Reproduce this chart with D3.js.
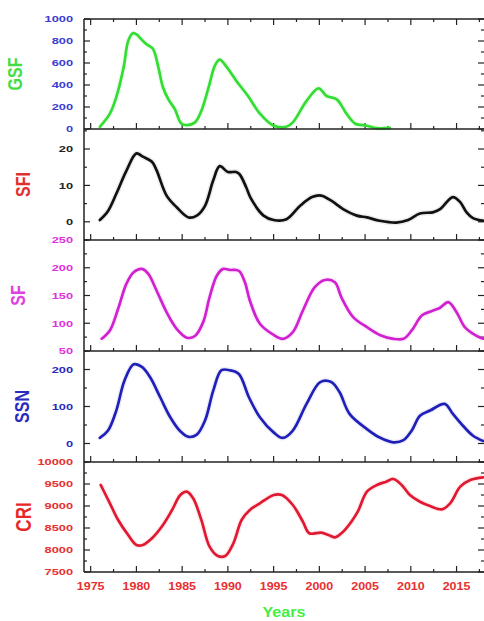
<!DOCTYPE html>
<html>
<head>
<meta charset="utf-8">
<script src="https://cdn.jsdelivr.net/npm/d3@7"></script>
<style>
  html, body { margin: 0; padding: 0; background: #fff; }
  svg { display: block; font-family: "Liberation Sans", Arial, sans-serif; }
</style>
</head>
<body>
<svg id="chart" width="484" height="621"></svg>
<script>
// ---- data ----
const gsfYears = [1976.0,1977.1,1977.8,1978.6,1979.1,1979.6,1980.0,1980.6,1981.1,1981.8,1982.4,1982.9,1983.5,1984.2,1984.9,1985.5,1986.4,1987.1,1987.9,1988.6,1989.1,1989.9,1990.9,1992.2,1993.5,1994.9,1996.4,1997.1,1998.6,1999.9,2000.8,2001.9,2003.0,2003.9,2005.2,2006.3,2007.7];
const gsfValues = [20,140,290,560,800,870,860,810,770,730,560,380,270,180,50,35,60,165,380,580,630,560,440,300,140,35,20,60,255,370,300,270,135,50,30,8,10];

const sfiYears = [1976.0,1976.9,1977.8,1978.9,1980.0,1980.7,1981.7,1982.2,1983.3,1984.4,1985.7,1986.6,1987.5,1988.4,1989.1,1990.0,1990.9,1991.3,1992.0,1992.5,1993.9,1995.0,1996.4,1997.9,1999.2,2000.2,2001.3,2002.6,2004.1,2005.2,2006.6,2008.4,2009.7,2011.0,2012.4,2013.2,2014.6,2015.4,2016.1,2016.8,2017.9];
const sfiValues = [0.5,3,7.7,14,18.8,17.9,16.5,14.2,7.2,4,1.2,1.7,4.4,11.4,15.3,13.7,13.7,13,9.5,6.5,1.7,0.5,0.7,4.4,6.8,7.2,5.8,3.5,1.7,1.2,0.3,-0.2,0.5,2.3,2.6,3.5,6.8,5.4,2.6,1.0,0.3];

const sfYears = [1976.2,1977.1,1978.0,1978.9,1979.7,1980.6,1981.3,1982.2,1983.3,1984.4,1985.5,1986.4,1987.3,1988.0,1988.8,1989.5,1990.2,1990.9,1991.3,1991.9,1992.4,1993.5,1995.0,1996.0,1997.1,1998.2,1999.5,2000.6,2001.7,2002.4,2003.7,2005.2,2006.6,2008.1,2009.2,2010.1,2011.2,2012.3,2013.2,2014.1,2015.0,2015.9,2017.0,2017.9];
const sfValues = [72,87,126,171,192,198,189,159,120,90,74,77,102,147,186,198,196,196,193,172,141,99,79,72,84,123,165,178,174,147,111,93,79,72,72,87,114,122,128,138,120,93,79,72];

const ssnYears = [1976.0,1976.9,1977.8,1978.7,1979.7,1980.6,1981.5,1982.6,1983.7,1984.8,1985.7,1986.6,1987.5,1988.4,1989.3,1990.2,1991.2,1992.3,1993.5,1995.0,1996.0,1997.1,1998.6,2000.1,2001.3,2002.2,2003.3,2005.2,2006.6,2008.1,2009.2,2010.1,2011.0,2012.1,2013.7,2014.6,2015.7,2016.8,2017.9];
const ssnValues = [15,35,89,170,214,207,179,125,71,33,18,24,62,143,198,198,188,125,71,30,15,35,107,166,166,139,80,39,16,3,9,35,75,89,107,80,48,21,7];

const criYears = [1976.1,1977.1,1978.0,1979.1,1980.0,1980.7,1981.7,1982.9,1983.9,1984.8,1985.5,1986.2,1987.1,1988.0,1988.9,1989.7,1990.6,1991.5,1992.4,1993.5,1995.0,1995.9,1997.1,1998.2,1998.9,2000.2,2001.0,2001.7,2002.6,2003.5,2004.2,2005.2,2006.3,2007.3,2008.1,2009.0,2009.9,2011.0,2012.1,2013.4,2014.3,2015.4,2016.5,2017.9];
const criValues = [9477,9061,8682,8341,8114,8114,8266,8568,8909,9250,9325,9175,8682,8075,7864,7864,8152,8682,8909,9061,9250,9250,9023,8643,8380,8395,8341,8288,8416,8643,8870,9325,9477,9553,9614,9477,9250,9098,9000,8925,9061,9439,9591,9652];

const xTickLabels = [1975,1980,1985,1990,1995,2000,2005,2010,2015];
const gsfTicks = [0,200,400,600,800,1000];
const sfiTicks = [0,10,20];
const sfTicks = [50,100,150,200,250];
const ssnTicks = [0,100,200];
const criTicks = [7500,8000,8500,9000,9500,10000];

// ---- layout ----
const svg = d3.select("#chart");
const left = 84, right = 484;
const bounds = [19, 129, 240, 351, 462, 572];
const x = d3.scaleLinear().domain([1974.27, 2018]).range([left, right]);

const panels = [
  {name: "GSF", years: gsfYears, values: gsfValues, domain: [0, 1000], ticks: gsfTicks, minor: 100,
   line: "#33dd33", label: "#44dd44", tickColor: "#3c3cd2", labelSize: 16, labelX: 22},
  {name: "SFI", years: sfiYears, values: sfiValues, domain: [-5, 25.5], ticks: sfiTicks, minor: 5,
   line: "#111111", label: "#e03030", tickColor: "#222222", labelSize: 16, labelX: 30},
  {name: "SF", years: sfYears, values: sfValues, domain: [50, 250], ticks: sfTicks, minor: 25,
   line: "#d020d0", label: "#e040e0", tickColor: "#e030e0", labelSize: 16, labelX: 25},
  {name: "SSN", years: ssnYears, values: ssnValues, domain: [-50, 250], ticks: ssnTicks, minor: 50,
   line: "#2020b8", label: "#2a2ac0", tickColor: "#2a2ac0", labelSize: 16, labelX: 29},
  {name: "CRI", years: criYears, values: criValues, domain: [7500, 10000], ticks: criTicks, minor: 250,
   line: "#e01830", label: "#e82828", tickColor: "#e83030", labelSize: 17, labelX: 31}
];

const stretch = 1.35;
const frame = "#222";

panels.forEach((p, i) => {
  const top = bounds[i], bottom = bounds[i + 1];
  const y = d3.scaleLinear().domain(p.domain).range([bottom, top]);
  const g = svg.append("g");

  // y ticks (left and right, inward)
  const minorVals = d3.range(Math.ceil(p.domain[0] / p.minor) * p.minor, p.domain[1] + 1e-9, p.minor);
  minorVals.forEach(v => {
    const major = p.ticks.includes(v);
    const len = major ? 6 : 3;
    const yy = y(v);
    g.append("line").attr("x1", left).attr("x2", left + len).attr("y1", yy).attr("y2", yy)
      .attr("stroke", frame).attr("stroke-width", 1.2);
    g.append("line").attr("x1", right - len).attr("x2", right).attr("y1", yy).attr("y2", yy)
      .attr("stroke", frame).attr("stroke-width", 1.2);
  });

  // y tick labels
  p.ticks.forEach(v => {
    g.append("text")
      .attr("transform", `translate(73,${y(v) + 3.4}) scale(${stretch},1)`)
      .attr("text-anchor", "end")
      .attr("font-size", 9.5).attr("font-weight", "bold")
      .attr("fill", p.tickColor)
      .text(v);
  });

  // y axis title
  g.append("text")
    .attr("transform", `translate(${p.labelX},${(top + bottom) / 2}) scale(1.3,1) rotate(-90)`)
    .attr("text-anchor", "middle")
    .attr("font-size", p.labelSize).attr("font-weight", "bold")
    .attr("fill", p.label)
    .text(p.name);

  // x ticks at the panel bottom, pointing up
  d3.range(1975, 2018.01, 2.5).forEach(yr => {
    const major = yr % 5 === 0;
    g.append("line").attr("x1", x(yr)).attr("x2", x(yr))
      .attr("y1", bottom).attr("y2", bottom - (major ? 6 : 3))
      .attr("stroke", frame).attr("stroke-width", 1.2);
    if (i === 0) {
      g.append("line").attr("x1", x(yr)).attr("x2", x(yr))
        .attr("y1", top).attr("y2", top + (major ? 6 : 3))
        .attr("stroke", frame).attr("stroke-width", 1.2);
    }
  });

  // series line with a faint halo of its own colour
  const data = p.years.map((yr, k) => [yr, p.values[k]]);
  const line = d3.line().x(d => x(d[0])).y(d => y(d[1])).curve(d3.curveCatmullRom.alpha(0.5));
  g.append("path").datum(data).attr("d", line)
    .attr("fill", "none").attr("stroke", p.line).attr("stroke-width", 5.5)
    .attr("stroke-opacity", 0.08).attr("stroke-linejoin", "round");
  g.append("path").datum(data).attr("d", line)
    .attr("fill", "none").attr("stroke", p.line).attr("stroke-width", 2.7)
    .attr("stroke-linejoin", "round").attr("stroke-linecap", "round");
});

// frame: horizontal panel separators and left axis
bounds.forEach(b => {
  svg.append("line").attr("x1", left).attr("x2", right).attr("y1", b).attr("y2", b)
    .attr("stroke", frame).attr("stroke-width", 1.5);
});
svg.append("line").attr("x1", left).attr("x2", left).attr("y1", bounds[0]).attr("y2", bounds[5])
  .attr("stroke", frame).attr("stroke-width", 1.5);

// x tick labels
xTickLabels.forEach(yr => {
  svg.append("text")
    .attr("transform", `translate(${x(yr)},590) scale(1.25,1)`)
    .attr("text-anchor", "middle")
    .attr("font-size", 10).attr("font-weight", "bold")
    .attr("fill", "#e83030")
    .text(yr);
});

// x axis title
svg.append("text")
  .attr("transform", `translate(${(left + right) / 2},617) scale(1.15,1)`)
  .attr("text-anchor", "middle")
  .attr("font-size", 14).attr("font-weight", "bold")
  .attr("fill", "#44ee44")
  .text("Years");
</script>
</body>
</html>
